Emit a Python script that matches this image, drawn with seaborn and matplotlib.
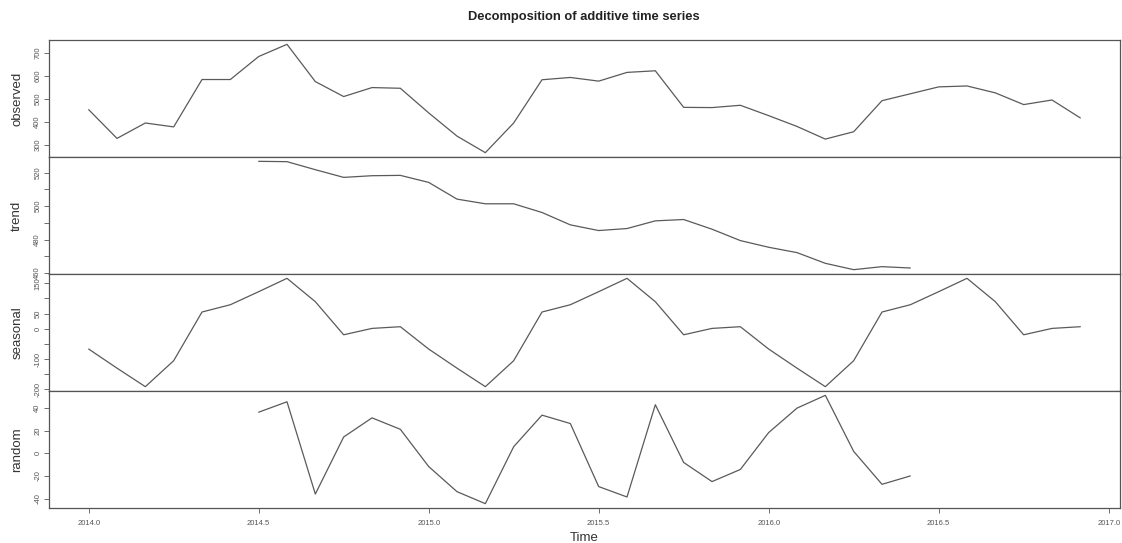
import matplotlib.pyplot as plt
import numpy as np
import pandas as pd
import seaborn as sns

# monthly series, Jan 2014 .. Dec 2016
time = 2014 + np.arange(36) / 12

observed = [454, 329, 396, 379, 585, 585, 685, 738, 576, 511, 550, 547,
            440, 339, 267, 396, 584, 594, 578, 616, 623, 464, 463, 473,
            428, 381, 326, 358, 493, 523, 553, 557, 527, 476, 496, 418]

nan = np.nan
trend = [nan, nan, nan, nan, nan, nan,
         526.8, 526.6, 521.8, 517.2, 518.2, 518.4,
         514.2, 504.2, 501.4, 501.4, 496.2, 488.8,
         485.4, 486.6, 491.2, 492.0, 486.2, 479.4,
         475.4, 472.2, 465.8, 462.0, 463.8, 463.0,
         nan, nan, nan, nan, nan, nan]

seasonal = [-67, -130, -191, -105.5, 55, 79, 122, 166, 89, -20, 1, 6.6,
            -67, -130, -191, -105.5, 55, 79, 122, 166, 89, -20, 1, 6.6,
            -67, -130, -191, -105.5, 55, 79, 122, 166, 89, -20, 1, 6.6]

random = [nan, nan, nan, nan, nan, nan,
          36.4, 45.6, -35.9, 14.5, 31.4, 21.3,
          -11.6, -33.8, -44.4, 5.9, 33.8, 26.4,
          -29.3, -38.5, 43.0, -8.0, -24.9, -14.2,
          18.4, 40.0, 51.3, 1.8, -27.3, -19.9,
          nan, nan, nan, nan, nan, nan]

panel_names = ["observed", "trend", "seasonal", "random"]
panel_ticks = [
    [300, 400, 500, 600, 700],
    [460, 470, 480, 490, 500, 510, 520],
    [-200, -150, -100, -50, 0, 50, 100, 150],
    [-40, -20, 0, 20, 40],
]
panel_ticklabels = [
    ["300", "400", "500", "600", "700"],
    ["460", "", "480", "", "500", "", "520"],
    ["-200", "", "-100", "", "0", "50", "", "150"],
    ["-40", "-20", "0", "20", "40"],
]
x_ticks = [2014.0, 2014.5, 2015.0, 2015.5, 2016.0, 2016.5, 2017.0]

sns.set_theme(style="white")
plt.rcParams["font.family"] = ["Liberation Sans", "DejaVu Sans"]

df = pd.DataFrame({"time": time, "observed": observed, "trend": trend,
                   "seasonal": seasonal, "random": random})

fig = plt.figure(figsize=(11.22, 5.43), dpi=100)
left, width = 49 / 1122, 1071 / 1122
top, h = 1 - 40 / 543, 117 / 543

line_col = "#5a5a5a"
for i, name in enumerate(panel_names):
    ax = fig.add_axes([left, top - (i + 1) * h, width, h])
    sns.lineplot(data=df, x="time", y=name, ax=ax, color=line_col, linewidth=0.9)
    # R-style range: data extent plus 4% on each side
    vals = df[name].dropna()
    lo, hi = vals.min(), vals.max()
    pad = 0.04 * (hi - lo)
    ax.set_ylim(lo - pad, hi + pad)
    ax.set_xlim(2014 - 0.04 * 35 / 12, 2014 + 35 / 12 + 0.04 * 35 / 12)
    ax.set_yticks(panel_ticks[i])
    ax.set_yticklabels(panel_ticklabels[i], rotation=90, va="center",
                       fontsize=5.5, color="#555555")
    ax.tick_params(axis="y", left=True, length=3.5, width=0.6,
                   color="#555555", pad=2)
    ax.set_ylabel(name, fontsize=9.5, color="#333333")
    ax.yaxis.set_label_coords(-0.024, 0.5)
    for sp in ax.spines.values():
        sp.set_color("#555555")
        sp.set_linewidth(0.9)
    if i < 3:
        ax.set_xticks([])
        ax.set_xlabel("")
    else:
        ax.set_xticks(x_ticks)
        ax.set_xticklabels([f"{t:.1f}" for t in x_ticks], fontsize=5.5,
                           color="#555555")
        ax.tick_params(axis="x", bottom=True, length=3.5, width=0.6,
                       color="#555555", pad=5)
        ax.set_xlabel("Time", fontsize=9.5, color="#333333", labelpad=4)

fig.text(584 / 1122, 1 - 17 / 543, "Decomposition of additive time series",
         ha="center", va="center", fontsize=9.3, fontweight="bold", color="#222222")

fig.savefig("out.png", dpi=100)
